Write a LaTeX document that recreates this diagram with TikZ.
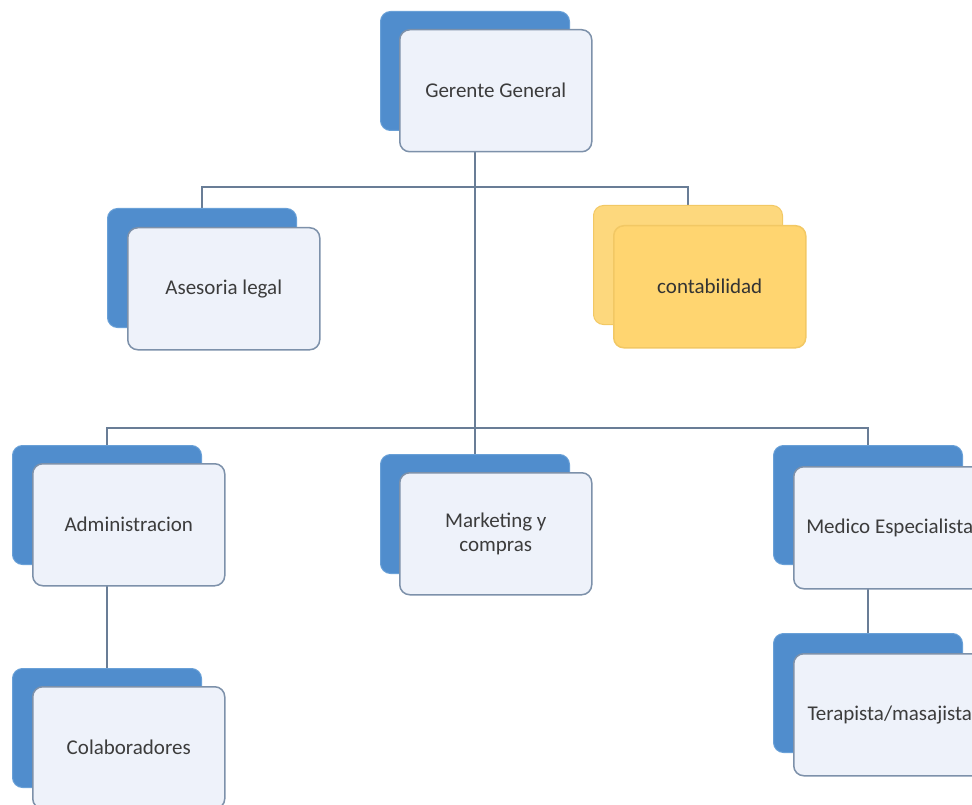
\documentclass[tikz,border=0pt]{standalone}
\usepackage{fontspec}
\setmainfont{Carlito}
\definecolor{backblue}{RGB}{80,141,205}
\definecolor{backblueedge}{RGB}{105,160,215}
\definecolor{frontfill}{RGB}{238,242,250}
\definecolor{frontedge}{RGB}{125,145,170}
\definecolor{goldback}{RGB}{253,216,125}
\definecolor{goldfront}{RGB}{255,213,112}
\definecolor{goldedge}{RGB}{242,200,100}
\definecolor{linecol}{RGB}{105,125,150}
\definecolor{txt}{RGB}{60,60,60}
\pgfdeclarelayer{bg}
\pgfsetlayers{bg,main}
\tikzset{
  backbox/.style={draw=backblueedge, fill=backblue, line width=1pt, rounded corners=10pt,
    minimum width=189pt, minimum height=119pt, inner sep=0pt, anchor=north west},
  frontbox/.style={draw=frontedge, fill=frontfill, line width=1.5pt, rounded corners=10pt,
    minimum width=192pt, minimum height=122pt, inner sep=0pt, anchor=north west,
    font=\fontsize{21}{24}\selectfont, text=txt, align=center},
  goldbackbox/.style={backbox, draw=goldedge, fill=goldback},
  goldfrontbox/.style={frontbox, draw=goldedge, fill=goldfront, text=black!80},
  conn/.style={draw=linecol, line width=2pt}
}
\begin{document}
\begin{tikzpicture}[x=1pt,y=-1pt]
\useasboundingbox (0,0) rectangle (972,805);
\clip (0,0) rectangle (972,805);
% Gerente General
\node[backbox] (Gb) at (380,11) {};
\node[frontbox] (Gf) at (399,29) {Gerente General};
% Asesoria legal
\node[backbox] (Ab) at (107,208) {};
\node[frontbox] (Af) at (127,227) {Asesoria legal};
% contabilidad
\node[goldbackbox] (Cb) at (593,205) {};
\node[goldfrontbox] (Cf) at (613,225) {contabilidad};
% Administracion
\node[backbox] (Db) at (12,445) {};
\node[frontbox] (Df) at (32,463) {Administracion};
% Marketing
\node[backbox] (Mb) at (380,454) {};
\node[frontbox] (Mf) at (399,472) {Marketing y\\compras};
% Medico Especialista
\node[backbox] (Eb) at (773,445) {};
\node[frontbox] (Ef) at (793,466) {Medico Especialista};
% Terapista
\node[backbox] (Tb) at (773,633) {};
\node[frontbox] (Tf) at (793,653) {Terapista/masajista};
% Colaboradores
\node[backbox] (Kb) at (12,668) {};
\node[frontbox] (Kf) at (32,686) {Colaboradores};
\coordinate (h1) at (473.5,187);
\coordinate (h2) at (473.5,428);
\begin{pgfonlayer}{bg}
\draw[conn] (Gb.south) -- (Mb.north);
\draw[conn] (Ab.north) |- (h1) -| (Cb.north);
\draw[conn] (Db.north) |- (h2) -| (Eb.north);
\draw[conn] (Db.south) -- (Kb.north);
\draw[conn] (Eb.south) -- (Tb.north);
\end{pgfonlayer}
\end{tikzpicture}
\end{document}
